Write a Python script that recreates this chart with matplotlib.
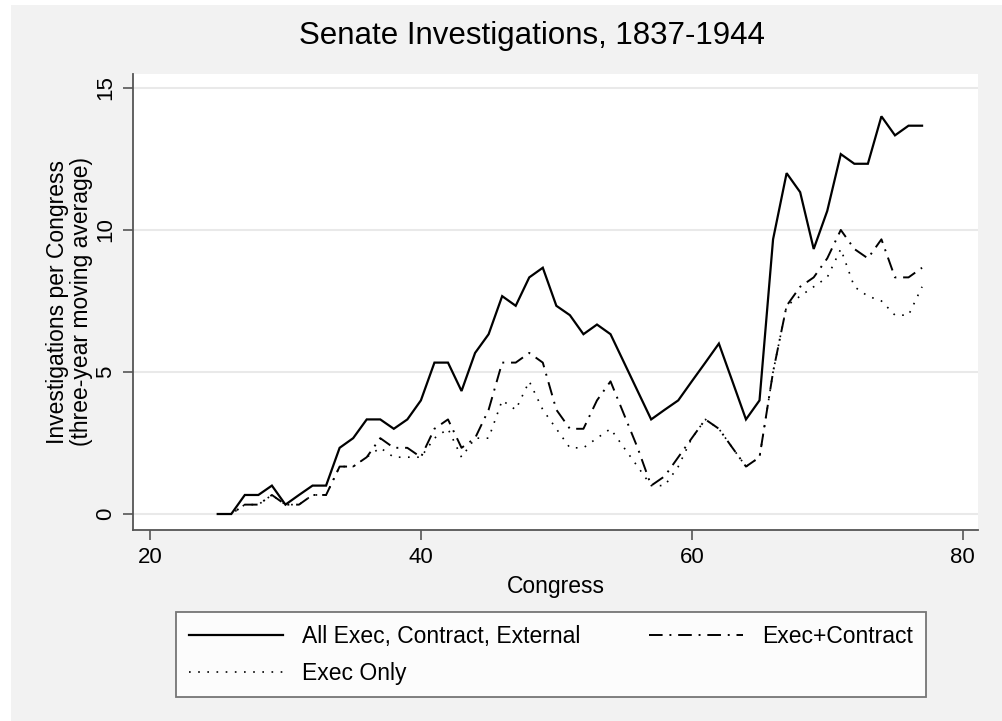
import matplotlib
matplotlib.use("Agg")
import matplotlib.pyplot as plt
from matplotlib.patches import Rectangle

plt.rcParams['font.family'] = ['Liberation Sans', 'DejaVu Sans']

congress = list(range(25, 78))

all_exec_contract_external = [
    0, 0, 0.67, 0.67, 1.0, 0.33, 0.67, 1.0, 1.0, 2.33,
    2.67, 3.33, 3.33, 3.0, 3.33, 4.0, 5.33, 5.33, 4.33, 5.67,
    6.33, 7.67, 7.33, 8.33, 8.67, 7.33, 7.0, 6.33, 6.67, 6.33,
    5.33, 4.33, 3.33, 3.67, 4.0, 4.67, 5.33, 6.0, 4.67, 3.33,
    4.0, 9.67, 12.0, 11.33, 9.33, 10.67, 12.67, 12.33, 12.33, 14.0,
    13.33, 13.67, 13.67]

exec_contract = [
    0, 0, 0.33, 0.33, 0.67, 0.33, 0.33, 0.67, 0.67, 1.67,
    1.67, 2.0, 2.67, 2.33, 2.33, 2.0, 3.0, 3.33, 2.33, 2.67,
    3.67, 5.33, 5.33, 5.67, 5.33, 3.67, 3.0, 3.0, 4.0, 4.67,
    3.5, 2.33, 1.0, 1.33, 2.0, 2.67, 3.33, 3.0, 2.33, 1.67,
    2.0, 5.0, 7.33, 8.0, 8.33, 9.0, 10.0, 9.33, 9.0, 9.67,
    8.33, 8.33, 8.67]

exec_only = [
    0, 0, 0.33, 0.33, 0.67, 0.33, 0.33, 0.67, 0.67, 1.67,
    1.67, 2.0, 2.33, 2.0, 2.0, 2.0, 2.67, 3.0, 2.0, 2.67,
    2.67, 4.0, 3.67, 4.67, 3.67, 3.0, 2.33, 2.33, 2.67, 3.0,
    2.33, 1.67, 1.0, 1.0, 1.67, 2.67, 3.33, 3.0, 2.33, 1.67,
    2.0, 5.0, 7.33, 7.67, 8.0, 8.33, 9.33, 8.0, 7.67, 7.5,
    7.0, 7.0, 8.0]

series_labels = ["All Exec, Contract, External", "Exec+Contract", "Exec Only"]
x_ticks = [20, 40, 60, 80]
y_ticks = [0, 5, 10, 15]

W, H = 1002, 721
fig = plt.figure(figsize=(W / 100, H / 100), dpi=100)
fig.patch.set_facecolor('white')

# gray graph region (behind everything)
bg = Rectangle((11 / W, 0), 1 - 11 / W, 1 - 5 / H,
               transform=fig.transFigure, facecolor='#f2f2f2',
               edgecolor='none', zorder=-10)
fig.patches.append(bg)

ax_l, ax_r, ax_t, ax_b = 133, 978, 74, 530
ax = fig.add_axes([ax_l / W, 1 - ax_b / H, (ax_r - ax_l) / W, (ax_b - ax_t) / H])
ax.set_facecolor('white')

ax.plot(congress, all_exec_contract_external, color='black', lw=1.6,
        solid_joinstyle='miter', label=series_labels[0], zorder=3)
ax.plot(congress, exec_contract, color='black', lw=1.4,
        linestyle=(0, (7, 3.5, 1, 3.5)), label=series_labels[1], zorder=3)
ax.plot(congress, exec_only, color='black', lw=1.2,
        linestyle=(0, (1, 4.5)), label=series_labels[2], zorder=3)

ax.set_xlim(18.745, 81.13)
ax.set_ylim(-0.563, 15.49)
ax.set_xticks(x_ticks)
ax.set_yticks(y_ticks)
ax.yaxis.grid(True, color='#e9e9e9', lw=1.5)
ax.set_axisbelow(True)

for s in ['top', 'right']:
    ax.spines[s].set_visible(False)
for s in ['left', 'bottom']:
    ax.spines[s].set_color('#555555')
    ax.spines[s].set_linewidth(1.3)

ax.tick_params(axis='both', direction='out', length=7, width=1.2,
               color='#555555', labelsize=16, labelcolor='black', pad=5)
for lab in ax.get_yticklabels():
    lab.set_rotation(90)
    lab.set_va('center')

fig.text(532 / W, 1 - 36 / H, "Senate Investigations, 1837-1944",
         fontsize=22.5, ha='center', va='center')
ax.set_xlabel("Congress", fontsize=16.5, labelpad=5)
ax.set_ylabel("Investigations per Congress\n(three-year moving average)",
              fontsize=16.5, labelpad=2, linespacing=1.05)

h, l = ax.get_legend_handles_labels()
order = [0, 2, 1]
leg = fig.legend([h[i] for i in order], [l[i] for i in order], ncol=2,
                 loc='upper left',
                 bbox_to_anchor=(176 / W, 1 - 612 / H),
                 bbox_transform=fig.transFigure,
                 fontsize=16.5, frameon=True, fancybox=False,
                 handlelength=4.1, handletextpad=0.85, borderpad=0.55,
                 labelspacing=0.62, columnspacing=3.0, borderaxespad=0)
leg.get_frame().set_edgecolor('#555555')
leg.get_frame().set_linewidth(1.3)
leg.get_frame().set_facecolor('white')

fig.savefig("out.png", dpi=100, facecolor=fig.get_facecolor())
